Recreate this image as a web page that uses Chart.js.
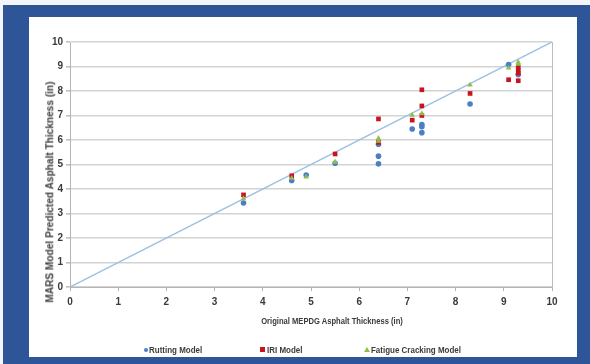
<!DOCTYPE html>
<html>
<head>
<meta charset="utf-8">
<script src="https://cdn.jsdelivr.net/npm/chart.js@4.4.1/dist/chart.umd.min.js"></script>
<style>
  html, body { margin: 0; padding: 0; background: #f3f5f8; }
  #wrap { position: relative; width: 590px; height: 364px; overflow: hidden; }
  #chart { position: absolute; left: 0; top: 0; }
  .lbl { position: absolute; font-family: "Liberation Sans Narrow", "Liberation Sans", Arial, sans-serif;
         font-weight: bold; color: #3a3a3a; white-space: nowrap; line-height: 1; }
  #xtitle { font-size: 9.5px; transform: translate(-50%, -50%) scaleX(0.8); }
  #ytitle { font-size: 11.5px; color: #404040; transform: translate(-50%, -50%) rotate(-90deg) scaleX(0.88); }
  .leg { font-size: 9.5px; transform-origin: 0 50%; transform: translateY(-50%) scaleX(0.84); }
  .mk { position: absolute; }
</style>
</head>
<body>
<div id="wrap">
  <canvas id="chart" width="590" height="364"></canvas>
  <div id="xtitle" class="lbl" style="left:332px; top:321px;">Original MEPDG Asphalt Thickness (in)</div>
  <div id="ytitle" class="lbl" style="left:50px; top:192px;">MARS Model Predicted Asphalt Thickness (in)</div>

  <div class="mk" style="left:144px; top:348px; width:4px; height:4px; border-radius:50%; background:#4a7fc6;"></div>
  <div class="lbl leg" style="left:149px; top:350px;">Rutting Model</div>

  <div class="mk" style="left:260px; top:347px; width:5px; height:5px; background:#c8141e;"></div>
  <div class="lbl leg" style="left:267px; top:350px;">IRI Model</div>

  <div class="mk" style="left:364px; top:347px; width:0; height:0; border-left:3px solid transparent; border-right:3px solid transparent; border-bottom:5px solid #92bd4c;"></div>
  <div class="lbl leg" style="left:371px; top:350px;">Fatigue Cracking Model</div>
</div>

<script>
// Axis ticks
const axisTicks = [0, 1, 2, 3, 4, 5, 6, 7, 8, 9, 10];

// Original MEPDG thickness (x) vs. MARS predicted thickness (y), inches
const ruttingX = [3.6, 4.6, 4.9, 5.5, 6.4, 6.4, 6.4, 7.1, 7.3, 7.3, 7.3, 8.3, 9.1, 9.3];
const ruttingY = [3.43, 4.35, 4.57, 5.05, 5.83, 5.34, 5.03, 6.45, 6.63, 6.54, 6.30, 7.47, 9.08, 8.67];

const iriX = [3.6, 4.6, 5.5, 6.4, 6.4, 7.1, 7.3, 7.3, 7.3, 8.3, 9.1, 9.3, 9.3, 9.3, 9.3];
const iriY = [3.76, 4.54, 5.43, 6.86, 5.90, 6.81, 8.05, 7.39, 7.00, 7.90, 8.46, 8.98, 8.85, 8.73, 8.42];

const fatigueX = [3.6, 4.6, 4.9, 5.5, 6.4, 6.4, 7.1, 7.3, 8.3, 9.1, 9.3, 9.3];
const fatigueY = [3.61, 4.44, 4.49, 5.10, 6.07, 5.95, 7.01, 7.08, 8.25, 8.94, 9.18, 9.10];

// Line of equality
const equalityX = [0, 10];
const equalityY = [0, 10];

const pts = (xs, ys) => xs.map((x, i) => ({ x, y: ys[i] }));

const TICK_FONT = { family: '"Liberation Sans Narrow", "Liberation Sans", Arial, sans-serif', size: 10, weight: 'bold' };

// Blue frame with white panel behind the chart, plus the plot-area outline
const framePlugin = {
  id: 'frame',
  beforeDraw(chart) {
    const ctx = chart.ctx;
    ctx.save();
    ctx.fillStyle = '#f3f5f8';
    ctx.fillRect(0, 0, chart.width, chart.height);
    ctx.fillStyle = '#2e5597';
    ctx.fillRect(3, 5, chart.width - 3, chart.height - 5);
    ctx.fillStyle = '#ffffff';
    ctx.fillRect(29, 17, 548, 340);
    ctx.restore();
  },
  beforeDatasetsDraw(chart) {
    const { ctx, chartArea: a } = chart;
    ctx.save();
    ctx.strokeStyle = '#bdbdbd';
    ctx.lineWidth = 1;
    ctx.beginPath();
    ctx.moveTo(Math.round(a.right) + 0.5, a.top);
    ctx.lineTo(Math.round(a.right) + 0.5, a.bottom);
    ctx.stroke();
    ctx.restore();
  }
};

new Chart(document.getElementById('chart'), {
  type: 'scatter',
  data: {
    datasets: [
      {
        label: 'Fatigue Cracking Model',
        data: pts(fatigueX, fatigueY),
        pointStyle: 'triangle',
        pointRadius: 3.2,
        backgroundColor: '#92bd4c',
        borderColor: '#92bd4c',
        borderWidth: 0,
        order: 0
      },
      {
        label: 'IRI Model',
        data: pts(iriX, iriY),
        pointStyle: 'rect',
        pointRadius: 3.3,
        backgroundColor: '#c8141e',
        borderColor: '#c8141e',
        borderWidth: 0,
        order: 1
      },
      {
        label: 'Rutting Model',
        data: pts(ruttingX, ruttingY),
        pointStyle: 'circle',
        pointRadius: 2.8,
        backgroundColor: '#4a7fc6',
        borderColor: '#4a7fc6',
        borderWidth: 0,
        order: 2
      },
      {
        type: 'line',
        label: 'Equality',
        data: pts(equalityX, equalityY),
        borderColor: '#9cc0e4',
        borderWidth: 1.5,
        pointRadius: 0,
        fill: false,
        order: 3
      }
    ]
  },
  options: {
    responsive: false,
    animation: false,
    layout: { padding: { left: 50, right: 38, top: 42, bottom: 57 } },
    plugins: {
      legend: { display: false },
      tooltip: { enabled: false }
    },
    scales: {
      x: {
        type: 'linear',
        min: 0, max: 10,
        afterBuildTicks: s => { s.ticks = axisTicks.map(v => ({ value: v })); },
        afterFit: s => { s.height = 20; },
        grid: { drawOnChartArea: false, drawTicks: true, tickLength: 4, color: '#b5b5b5', tickColor: '#b5b5b5' },
        border: { display: true, color: '#b5b5b5', width: 1 },
        ticks: { font: TICK_FONT, color: '#3a3a3a', padding: 5, maxRotation: 0 }
      },
      y: {
        type: 'linear',
        min: 0, max: 10,
        afterBuildTicks: s => { s.ticks = axisTicks.map(v => ({ value: v })); },
        afterFit: s => { s.width = 20; },
        grid: { color: '#d3d3d3', lineWidth: 1.6, drawTicks: true, tickLength: 4, tickColor: '#c0c0c0' },
        border: { display: true, color: '#b5b5b5', width: 1 },
        ticks: { font: TICK_FONT, color: '#3a3a3a', padding: 3 }
      }
    }
  },
  plugins: [framePlugin]
});
</script>
</body>
</html>
